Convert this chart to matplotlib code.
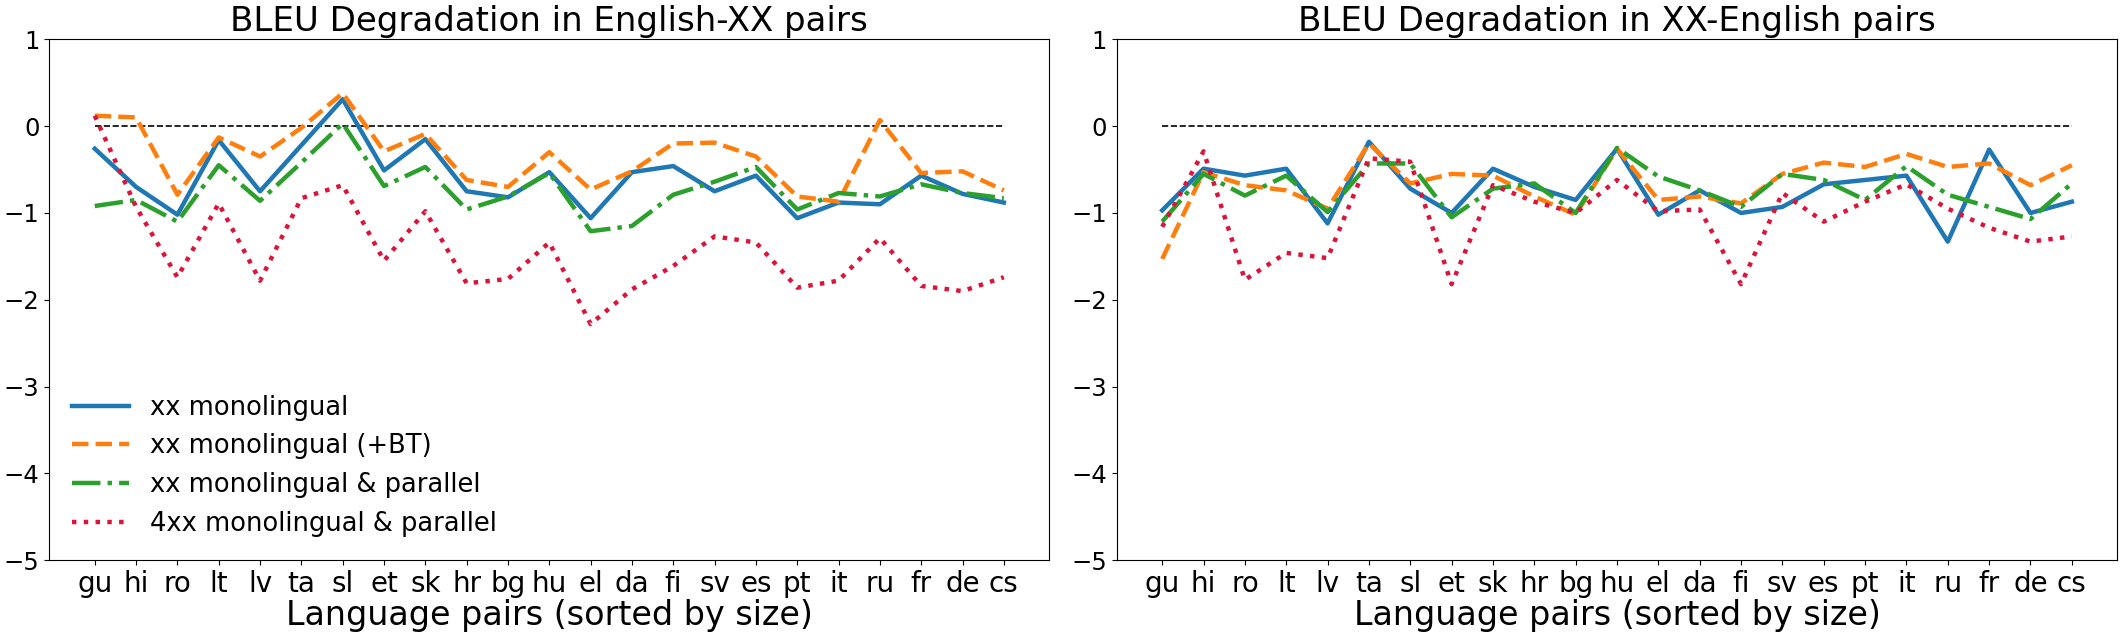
import matplotlib
matplotlib.use("Agg")
import matplotlib.pyplot as plt

langs = ["gu", "hi", "ro", "lt", "lv", "ta", "sl", "et", "sk", "hr", "bg", "hu",
         "el", "da", "fi", "sv", "es", "pt", "it", "ru", "fr", "de", "cs"]

series_labels = ["xx monolingual", "xx monolingual (+BT)",
                 "xx monolingual & parallel", "4xx monolingual & parallel"]

# English-XX
en_xx_mono = [-0.26, -0.70, -1.02, -0.16, -0.75, -0.22, 0.31, -0.51, -0.15, -0.75, -0.82, -0.53,
              -1.06, -0.53, -0.46, -0.75, -0.57, -1.06, -0.88, -0.90, -0.57, -0.78, -0.88]
en_xx_bt = [0.12, 0.10, -0.79, -0.13, -0.35, -0.02, 0.38, -0.29, -0.09, -0.62, -0.70, -0.30,
            -0.73, -0.52, -0.20, -0.19, -0.35, -0.81, -0.87, 0.07, -0.54, -0.52, -0.74]
en_xx_par = [-0.92, -0.85, -1.10, -0.45, -0.86, -0.42, 0.03, -0.69, -0.47, -0.96, -0.81, -0.54,
             -1.21, -1.15, -0.79, -0.64, -0.47, -0.96, -0.77, -0.81, -0.67, -0.77, -0.83]
en_xx_4x = [0.12, -0.93, -1.74, -0.89, -1.78, -0.83, -0.68, -1.55, -0.98, -1.81, -1.76, -1.34,
            -2.28, -1.88, -1.61, -1.27, -1.34, -1.86, -1.78, -1.29, -1.84, -1.90, -1.74]

# XX-English
xx_en_mono = [-0.97, -0.49, -0.57, -0.49, -1.12, -0.18, -0.72, -1.00, -0.49, -0.70, -0.85, -0.26,
              -1.02, -0.74, -1.00, -0.93, -0.67, -0.62, -0.57, -1.33, -0.27, -1.00, -0.87]
xx_en_bt = [-1.53, -0.53, -0.68, -0.74, -0.95, -0.20, -0.66, -0.55, -0.57, -0.81, -1.02, -0.26,
            -0.85, -0.81, -0.89, -0.55, -0.42, -0.47, -0.32, -0.47, -0.43, -0.68, -0.45]
xx_en_par = [-1.10, -0.55, -0.80, -0.57, -0.99, -0.43, -0.43, -1.05, -0.72, -0.66, -1.00, -0.25,
             -0.58, -0.74, -0.93, -0.55, -0.62, -0.85, -0.46, -0.79, -0.93, -1.07, -0.66]
xx_en_4x = [-1.16, -0.29, -1.77, -1.46, -1.52, -0.37, -0.41, -1.82, -0.68, -0.87, -1.00, -0.62,
            -0.98, -0.96, -1.82, -0.77, -1.10, -0.87, -0.67, -0.95, -1.17, -1.33, -1.27]

baseline = [0.0] * len(langs)

titles = ["BLEU Degradation in English-XX pairs", "BLEU Degradation in XX-English pairs"]
xlabel = "Language pairs (sorted by size)"
yticks = [-5, -4, -3, -2, -1, 0, 1]

styles = [dict(color="tab:blue", linestyle="-"),
          dict(color="tab:orange", linestyle="--"),
          dict(color="tab:green", linestyle="-."),
          dict(color="crimson", linestyle=":")]

W, H = 2123, 640
fig = plt.figure(figsize=(W / 100, H / 100), dpi=100)
ax1 = fig.add_axes([49.3 / W, 1 - 560.3 / H, 1000 / W, 521 / H])
ax2 = fig.add_axes([1116.7 / W, 1 - 560.3 / H, 1000.6 / W, 521 / H])

panels = [(ax1, [en_xx_mono, en_xx_bt, en_xx_par, en_xx_4x]),
          (ax2, [xx_en_mono, xx_en_bt, xx_en_par, xx_en_4x])]

for i, (ax, data) in enumerate(panels):
    ax.plot(langs, baseline, color="black", linestyle="--", linewidth=1.2)
    for vals, lab, st in zip(data, series_labels, styles):
        ax.plot(langs, vals, linewidth=3.2, label=lab, **st)
    ax.set_ylim(-5, 1)
    ax.set_yticks(yticks)
    ax.tick_params(axis="y", labelsize=17.5)
    ax.tick_params(axis="x", labelsize=20)
    ax.set_title(titles[i], fontsize=24.5)
    ax.set_xlabel(xlabel, fontsize=24, labelpad=1)

ax1.legend(loc="lower left", fontsize=18.5, frameon=False, handlelength=2.2)

fig.savefig("out.png", dpi=100)
